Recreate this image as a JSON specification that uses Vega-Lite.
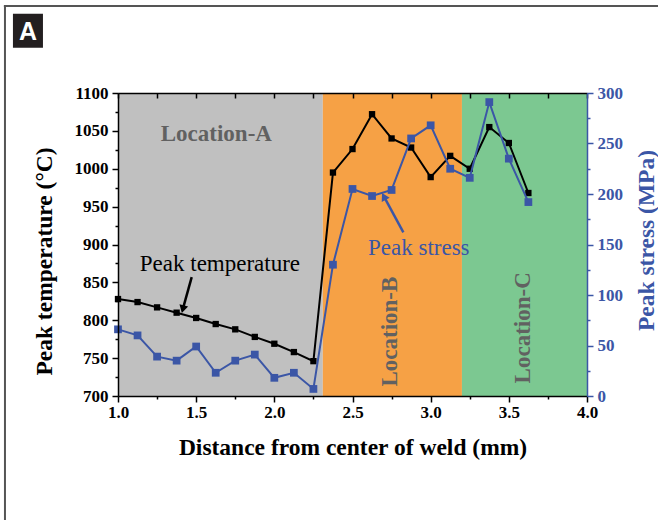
{
  "$schema": "https://vega.github.io/schema/vega-lite/v6.json",
  "width": 469,
  "height": 303,
  "autosize": "none",
  "padding": {"left": 118, "top": 93, "right": 71, "bottom": 124},
  "background": "white",
  "config": {"view": {"stroke": null}, "font": "Liberation Serif"},
  "datasets": {
    "series": [
      {"d": 1.0, "temp": 828, "stress": 66},
      {"d": 1.125, "temp": 824, "stress": 60},
      {"d": 1.25, "temp": 817, "stress": 39},
      {"d": 1.375, "temp": 810, "stress": 35},
      {"d": 1.5, "temp": 803, "stress": 49},
      {"d": 1.625, "temp": 795, "stress": 23},
      {"d": 1.75, "temp": 788, "stress": 35},
      {"d": 1.875, "temp": 778, "stress": 41},
      {"d": 2.0, "temp": 769, "stress": 18},
      {"d": 2.125, "temp": 758, "stress": 23},
      {"d": 2.25, "temp": 746, "stress": 7},
      {"d": 2.375, "temp": 995, "stress": 130},
      {"d": 2.5, "temp": 1026, "stress": 205},
      {"d": 2.625, "temp": 1072, "stress": 198},
      {"d": 2.75, "temp": 1040, "stress": 204},
      {"d": 2.875, "temp": 1028, "stress": 255},
      {"d": 3.0, "temp": 989, "stress": 268},
      {"d": 3.125, "temp": 1017, "stress": 225},
      {"d": 3.25, "temp": 1000, "stress": 216},
      {"d": 3.375, "temp": 1055, "stress": 291},
      {"d": 3.5, "temp": 1034, "stress": 235},
      {"d": 3.625, "temp": 968, "stress": 192}
    ],
    "zones": [
      {"zone": "Location-A", "start": 1.0, "end": 2.31},
      {"zone": "Location-B", "start": 2.31, "end": 3.2},
      {"zone": "Location-C", "start": 3.2, "end": 4.0}
    ],
    "zonelabels": [
      {"label": "Location-A", "d": 1.629, "temp": 1046, "rot": 0},
      {"label": "Location-B", "d": 2.74, "temp": 785, "rot": 270},
      {"label": "Location-C", "d": 3.593, "temp": 790, "rot": 270}
    ]
  },
  "layer": [
    {
      "layer": [
        {
          "data": {"name": "zones"},
          "mark": {"type": "rect"},
          "encoding": {
            "x": {"field": "start", "type": "quantitative", "scale": {"domain": [1, 4], "nice": false, "zero": false}, "axis": null},
            "x2": {"field": "end"},
            "color": {
              "field": "zone", "type": "nominal",
              "scale": {"domain": ["Location-A", "Location-B", "Location-C"], "range": ["#c0c0c0", "#f6a145", "#7cc891"]},
              "legend": null
            }
          }
        },
        {
          "data": {"name": "zonelabels"},
          "mark": {"type": "text", "font": "Liberation Serif", "fontWeight": "bold", "fontSize": 23, "color": "#616161", "align": "center"},
          "encoding": {
            "x": {"field": "d", "type": "quantitative", "axis": null},
            "y": {"field": "temp", "type": "quantitative", "scale": {"domain": [700, 1100], "nice": false, "zero": false}, "axis": null},
            "text": {"field": "label"},
            "angle": {"field": "rot", "type": "quantitative", "scale": null},
            "baseline": {"condition": {"test": "datum.rot === 0", "value": "alphabetic"}, "value": "middle"}
          }
        },
        {
          "data": {"name": "series"},
          "mark": {"type": "line", "color": "black", "strokeWidth": 2},
          "encoding": {
            "x": {"field": "d", "type": "quantitative", "axis": null},
            "y": {"field": "temp", "type": "quantitative", "axis": null}
          }
        },
        {
          "data": {"name": "series"},
          "mark": {"type": "point", "shape": "square", "filled": true, "color": "black", "size": 40, "opacity": 1},
          "encoding": {
            "x": {"field": "d", "type": "quantitative", "axis": null},
            "y": {"field": "temp", "type": "quantitative", "axis": null}
          }
        },
        {
          "data": {"values": [{"label": "Peak temperature"}]},
          "mark": {"type": "text", "font": "Liberation Serif", "fontSize": 23, "color": "black", "align": "center", "baseline": "alphabetic"},
          "encoding": {
            "x": {"datum": 1.652, "type": "quantitative", "axis": null},
            "y": {"datum": 865, "type": "quantitative", "axis": null},
            "text": {"field": "label"}
          }
        },
        {
          "data": {"values": [{}]},
          "mark": {"type": "rule", "color": "black", "strokeWidth": 2.5},
          "encoding": {
            "x": {"datum": 1.4715, "type": "quantitative", "axis": null},
            "y": {"datum": 857, "type": "quantitative", "axis": null},
            "x2": {"datum": 1.4146},
            "y2": {"datum": 814.6}
          }
        },
        {
          "data": {"values": [{}]},
          "mark": {"type": "point", "shape": "triangle-down", "filled": true, "color": "black", "size": 80, "opacity": 1, "angle": 15},
          "encoding": {
            "x": {"datum": 1.4146, "type": "quantitative", "axis": null},
            "y": {"datum": 814.6, "type": "quantitative", "axis": null}
          }
        },
        {
          "data": {"values": [{}]},
          "mark": {"type": "rule", "color": "#555555", "strokeWidth": 2},
          "encoding": {
            "x": {"datum": 0.277, "type": "quantitative", "axis": null},
            "y": {"datum": 1215, "type": "quantitative", "axis": null},
            "y2": {"datum": 520}
          }
        },
        {
          "data": {"values": [{}]},
          "mark": {"type": "rule", "color": "#555555", "strokeWidth": 2},
          "encoding": {
            "x": {"datum": 0.27, "type": "quantitative", "axis": null},
            "x2": {"datum": 4.46},
            "y": {"datum": 1215, "type": "quantitative", "axis": null}
          }
        },
        {
          "data": {"values": [{}]},
          "mark": {"type": "rect", "color": "#231f20"},
          "encoding": {
            "x": {"datum": 0.328, "type": "quantitative", "axis": null},
            "x2": {"datum": 0.52},
            "y": {"datum": 1204.7, "type": "quantitative", "axis": null},
            "y2": {"datum": 1159.8}
          }
        },
        {
          "data": {"values": [{"label": "A"}]},
          "mark": {"type": "text", "font": "Liberation Sans", "fontWeight": "bold", "fontSize": 25, "color": "white", "align": "center", "baseline": "middle", "dy": 1},
          "encoding": {
            "x": {"datum": 0.424, "type": "quantitative", "axis": null},
            "y": {"datum": 1182, "type": "quantitative", "axis": null},
            "text": {"field": "label"}
          }
        }
      ]
    },
    {
      "layer": [
        {
          "data": {"name": "series"},
          "mark": {"type": "line", "color": "#3b56a6", "strokeWidth": 2},
          "encoding": {
            "x": {"field": "d", "type": "quantitative", "axis": null},
            "y": {"field": "stress", "type": "quantitative", "scale": {"domain": [0, 300], "nice": false}, "axis": null}
          }
        },
        {
          "data": {"name": "series"},
          "mark": {"type": "point", "shape": "square", "filled": true, "color": "#3b56a6", "size": 60, "opacity": 1},
          "encoding": {
            "x": {"field": "d", "type": "quantitative", "axis": null},
            "y": {"field": "stress", "type": "quantitative", "axis": null}
          }
        },
        {
          "data": {"values": [{"label": "Peak stress"}]},
          "mark": {"type": "text", "font": "Liberation Serif", "fontSize": 23, "color": "#3b56a6", "align": "center", "baseline": "alphabetic"},
          "encoding": {
            "x": {"datum": 2.924, "type": "quantitative", "axis": null},
            "y": {"datum": 140, "type": "quantitative", "axis": null},
            "text": {"field": "label"}
          }
        },
        {
          "data": {"values": [{}]},
          "mark": {"type": "rule", "color": "#3b56a6", "strokeWidth": 2.5},
          "encoding": {
            "x": {"datum": 2.8254, "type": "quantitative", "axis": null},
            "y": {"datum": 162, "type": "quantitative", "axis": null},
            "x2": {"datum": 2.7006},
            "y2": {"datum": 197.6}
          }
        },
        {
          "data": {"values": [{}]},
          "mark": {"type": "point", "shape": "triangle-up", "filled": true, "color": "#3b56a6", "size": 80, "opacity": 1, "angle": -28},
          "encoding": {
            "x": {"datum": 2.7006, "type": "quantitative", "axis": null},
            "y": {"datum": 197.6, "type": "quantitative", "axis": null}
          }
        }
      ]
    },
    {
      "data": {"name": "series"},
      "mark": {"type": "point", "opacity": 0},
      "encoding": {
        "x": {
          "field": "d", "type": "quantitative",
          "axis": {
            "orient": "bottom",
            "zindex": 1,
            "values": [1, 1.5, 2, 2.5, 3, 3.5, 4],
            "format": ".1f",
            "tickSize": 6,
            "tickColor": "black", "tickWidth": 1.5,
            "domainColor": "black", "domainWidth": 1.5,
            "labelFont": "Liberation Serif", "labelFontWeight": "bold", "labelFontSize": 17, "labelColor": "black",
            "labelPadding": 2, "labelFlush": false,
            "grid": false,
            "title": "Distance from center of weld (mm)",
            "titleFont": "Liberation Serif", "titleFontWeight": "bold", "titleFontSize": 23.5, "titleColor": "black",
            "titlePadding": 15
          }
        },
        "y": {
          "field": "temp", "type": "quantitative",
          "scale": {"domain": [700, 1100], "nice": false, "zero": false},
          "axis": {
            "orient": "left",
            "zindex": 1,
            "values": [700, 750, 800, 850, 900, 950, 1000, 1050, 1100],
            "format": "d",
            "tickSize": 6,
            "tickColor": "black", "tickWidth": 1.5,
            "domainColor": "black", "domainWidth": 1.5,
            "labelFont": "Liberation Serif", "labelFontWeight": "bold", "labelFontSize": 17, "labelColor": "black",
            "labelPadding": 4, "labelFlush": false,
            "grid": false,
            "title": "Peak temperature (°C)",
            "titleFont": "Liberation Serif", "titleFontWeight": "bold", "titleFontSize": 23.5, "titleColor": "black",
            "titlePadding": 18,
            "titleY": 168
          }
        }
      }
    },
    {
      "data": {"name": "series"},
      "mark": {"type": "point", "opacity": 0},
      "encoding": {
        "x": {
          "field": "d", "type": "quantitative",
          "axis": {
            "orient": "top",
            "zindex": 1,
            "values": [1, 1.25, 1.5, 1.75, 2, 2.25, 2.5, 2.75, 3, 3.25, 3.5, 3.75, 4],
            "labels": false,
            "tickSize": -5,
            "tickColor": "black", "tickWidth": 1.5,
            "domainColor": "black", "domainWidth": 1.5,
            "grid": false,
            "title": null
          }
        },
        "y": {
          "field": "stress", "type": "quantitative",
          "scale": {"domain": [0, 300], "nice": false},
          "axis": {
            "orient": "right",
            "zindex": 1,
            "values": [0, 50, 100, 150, 200, 250, 300],
            "format": "d",
            "tickSize": 6,
            "tickColor": "#3b56a6", "tickWidth": 1.5,
            "domainColor": "#3b56a6", "domainWidth": 1.5,
            "labelFont": "Liberation Serif", "labelFontWeight": "bold", "labelFontSize": 17, "labelColor": "#3b56a6",
            "labelPadding": 4, "labelFlush": false,
            "grid": false,
            "title": "Peak stress (MPa)",
            "titleFont": "Liberation Serif", "titleFontWeight": "bold", "titleFontSize": 23.5, "titleColor": "#3b56a6",
            "titleAngle": 270,
            "titleBaseline": "top",
            "titlePadding": 12,
            "titleY": 147
          }
        }
      }
    },
    {
      "data": {"name": "series"},
      "mark": {"type": "point", "opacity": 0},
      "encoding": {
        "x": {
          "field": "d", "type": "quantitative",
          "axis": {
            "orient": "bottom", "zindex": 1,
            "values": [1.25, 1.75, 2.25, 2.75, 3.25, 3.75],
            "labels": false, "domain": false, "grid": false,
            "tickSize": 3, "tickColor": "black", "tickWidth": 1.5,
            "title": null
          }
        },
        "y": {
          "field": "temp", "type": "quantitative",
          "scale": {"domain": [700, 1100], "nice": false, "zero": false},
          "axis": {
            "orient": "left", "zindex": 1,
            "values": [725, 775, 825, 875, 925, 975, 1025, 1075],
            "labels": false, "domain": false, "grid": false,
            "tickSize": 3, "tickColor": "black", "tickWidth": 1.5,
            "title": null
          }
        }
      }
    },
    {
      "data": {"name": "series"},
      "mark": {"type": "point", "opacity": 0},
      "encoding": {
        "x": {"field": "d", "type": "quantitative", "axis": null},
        "y": {
          "field": "stress", "type": "quantitative",
          "scale": {"domain": [0, 300], "nice": false},
          "axis": {
            "orient": "right", "zindex": 1,
            "values": [25, 75, 125, 175, 225, 275],
            "labels": false, "domain": false, "grid": false,
            "tickSize": 3, "tickColor": "#3b56a6", "tickWidth": 1.5,
            "title": null
          }
        }
      }
    }
  ],
  "resolve": {"scale": {"y": "independent"}, "axis": {"x": "independent", "y": "independent"}}
}
